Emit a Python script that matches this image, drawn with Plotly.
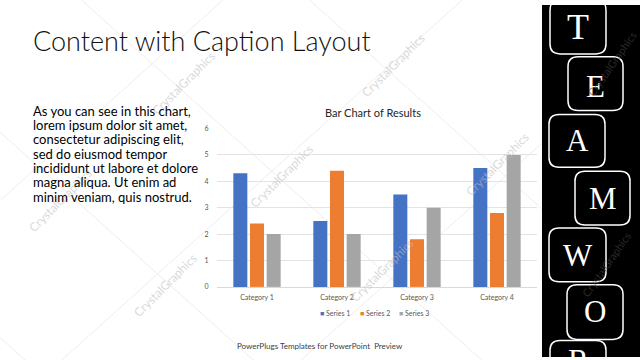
import plotly.graph_objects as go

# ---- data ----
categories = ["Category 1", "Category 2", "Category 3", "Category 4"]
series_names = ["Series 1", "Series 2", "Series 3"]
series1 = [4.3, 2.5, 3.5, 4.5]
series2 = [2.4, 4.4, 1.8, 2.8]
series3 = [2.0, 2.0, 3.0, 5.0]
series_values = [series1, series2, series3]
series_colors = ["#4472C4", "#ED7D31", "#A5A5A5"]
y_ticks = [0, 1, 2, 3, 4, 5, 6]

slide_title = "Content with Caption Layout"
chart_title = "Bar Chart of Results"
body_lines = [
    "As you can see in this chart,",
    "lorem ipsum dolor sit amet,",
    "consectetur adipiscing elit,",
    "sed do eiusmod tempor",
    "incididunt ut labore et dolore",
    "magna aliqua. Ut enim ad",
    "minim veniam, quis nostrud.",
]
footer = "PowerPlugs Templates for PowerPoint  Preview"
team_letters = ["T", "E", "A", "M", "W", "O", "R"]

W, H = 640, 360
def X(px): return px / W
def Y(py): return 1 - py / H

fig = go.Figure()
for name, vals, col in zip(series_names, series_values, series_colors):
    fig.add_trace(go.Bar(x=categories, y=vals, name=name, marker_color=col,
                         marker_line_width=0, showlegend=False))

FONT = "Lato, 'Open Sans', sans-serif"
shapes = []
annotations = []

# faint diagonal lattice lines (watermark)
lattice_col = "#ededed"
for c in [-500, -290, -80, 130, 340]:
    shapes.append(dict(type="line", xref="paper", yref="paper",
                       x0=X(-50), y0=Y(-50 * 0.92 + c), x1=X(700), y1=Y(700 * 0.92 + c),
                       line=dict(color=lattice_col, width=1), layer="below"))
for c in [200, 420, 640, 860]:
    shapes.append(dict(type="line", xref="paper", yref="paper",
                       x0=X(-50), y0=Y(50 * 0.92 + c), x1=X(700), y1=Y(-700 * 0.92 + c),
                       line=dict(color=lattice_col, width=1), layer="below"))

# watermark texts
wm_pos = [(183, 80), (393, 62), (281, 175), (382, 272), (497, 163), (60, 200), (165, 287)]
for (wx, wy) in wm_pos:
    annotations.append(dict(text="CrystalGraphics", x=X(wx), y=Y(wy), xref="paper", yref="paper",
                            showarrow=False, textangle=-45, xanchor="center", yanchor="middle",
                            font=dict(family=FONT, size=12, color="rgba(190,190,190,0.6)")))

# right black panel
shapes.append(dict(type="rect", xref="paper", yref="paper", x0=X(542), x1=X(640), y0=Y(0), y1=Y(360),
                   fillcolor="black", line=dict(width=0), layer="above"))

def rrect(x0, y0, x1, y1, r=10):
    pts = (f"M {X(x0+r)},{Y(y0)} L {X(x1-r)},{Y(y0)} Q {X(x1)},{Y(y0)} {X(x1)},{Y(y0+r)} "
           f"L {X(x1)},{Y(y1-r)} Q {X(x1)},{Y(y1)} {X(x1-r)},{Y(y1)} "
           f"L {X(x0+r)},{Y(y1)} Q {X(x0)},{Y(y1)} {X(x0)},{Y(y1-r)} "
           f"L {X(x0)},{Y(y0+r)} Q {X(x0)},{Y(y0)} {X(x0+r)},{Y(y0)} Z")
    return pts

boxes = [(550, -5, 606, 50), (568, 53, 623, 108), (549, 112, 605, 166), (575, 170, 630, 225),
         (549, 228, 606, 283), (567, 286, 623, 342), (550, 343, 606, 400)]
letter_y = [22, 83, 139, 198, 256, 313, 364]
for letter, (bx0, by0, bx1, by1), ly in zip(team_letters, boxes, letter_y):
    shapes.append(dict(type="path", xref="paper", yref="paper", path=rrect(bx0, by0, bx1, by1, 10),
                       line=dict(color="white", width=1.5), fillcolor="rgba(0,0,0,0)", layer="above"))
    cx = (bx0 + bx1) / 2
    annotations.append(dict(text=letter, x=X(cx), y=Y(ly), xref="paper", yref="paper",
                            showarrow=False, xanchor="center", yanchor="middle",
                            font=dict(family="'Liberation Serif', 'DejaVu Serif', serif",
                                      size=36 if letter == "T" else 31, color="white")))

# panel watermarks
for (wx, wy) in [(612, 60), (606, 265)]:
    annotations.append(dict(text="CrystalGraphics", x=X(wx), y=Y(wy), xref="paper", yref="paper",
                            showarrow=False, textangle=-55, xanchor="center", yanchor="middle",
                            font=dict(family=FONT, size=11, color="rgba(70,70,70,0.6)")))

# slide title
annotations.append(dict(text=slide_title, x=X(31), y=Y(36), xref="paper", yref="paper",
                        showarrow=False, xanchor="left", yanchor="middle",
                        font=dict(family=FONT, size=27, color="#111111", weight=300)))
# body text
for i, line in enumerate(body_lines):
    annotations.append(dict(text=line, x=X(31), y=Y(108 + i * 14.7), xref="paper", yref="paper",
                            showarrow=False, xanchor="left", yanchor="middle", height=14,
                            font=dict(family=FONT, size=13, color="#000000")))

# chart title
annotations.append(dict(text=chart_title, x=X(373), y=Y(110), xref="paper", yref="paper",
                        showarrow=False, xanchor="center", yanchor="middle",
                        font=dict(family=FONT, size=11, color="#262626")))
# legend
for i, (name, col) in enumerate(zip(series_names, series_colors)):
    annotations.append(dict(text=f"<span style='color:{col}'>■</span> {name}",
                            x=X(318 + i * 39.5), y=Y(315), xref="paper", yref="paper",
                            showarrow=False, xanchor="left", yanchor="middle",
                            font=dict(family=FONT, size=7, color="#595959")))
# footer
annotations.append(dict(text=footer, x=X(320), y=Y(349), xref="paper", yref="paper",
                        showarrow=False, xanchor="center", yanchor="middle",
                        font=dict(family=FONT, size=8, color="#404040")))

fig.update_layout(
    width=W, height=H, margin=dict(l=0, r=0, t=0, b=0),
    paper_bgcolor="white", plot_bgcolor="white",
    barmode="group", bargap=0.375, bargroupgap=0.16,
    xaxis=dict(domain=[X(217), X(537)], showgrid=False, showline=True, linecolor="#d9d9d9",
               ticks="outside", ticklen=4, tickcolor="rgba(0,0,0,0)",
               tickfont=dict(family=FONT, size=7, color="#595959"), fixedrange=True),
    yaxis=dict(domain=[Y(288.3), Y(126.3)], range=[0, 6], tickvals=y_ticks,
               showgrid=True, gridcolor="#e3e3e3", gridwidth=1, zeroline=False,
               ticks="outside", ticklen=6, tickcolor="rgba(0,0,0,0)",
               tickfont=dict(family=FONT, size=7, color="#595959"), fixedrange=True),
    shapes=shapes, annotations=annotations,
)

fig.write_html("out.html")
